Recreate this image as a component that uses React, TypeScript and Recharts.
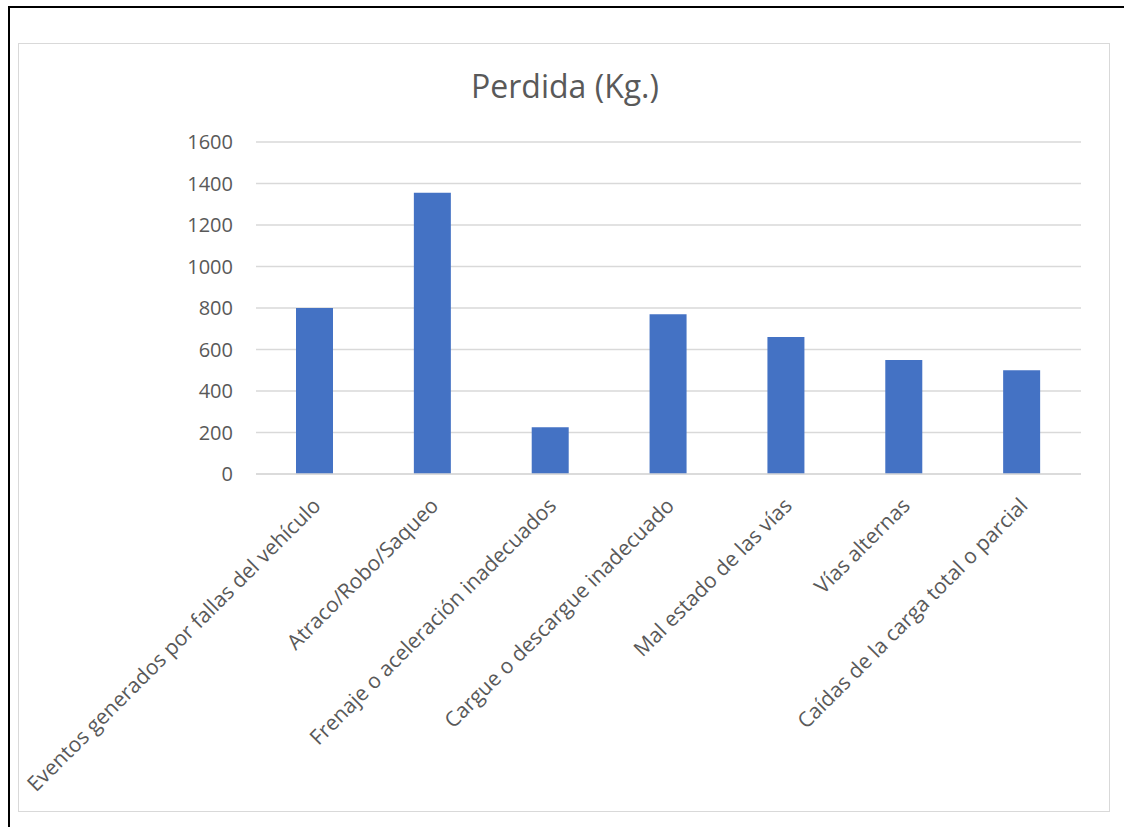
import { BarChart, Bar, XAxis, YAxis, CartesianGrid } from 'recharts'

const categories = [
  'Eventos generados por fallas del vehículo',
  'Atraco/Robo/Saqueo',
  'Frenaje o aceleración inadecuados',
  'Cargue o descargue inadecuado',
  'Mal estado de las vías',
  'Vías alternas',
  'Caídas de la carga total o parcial',
]
const perdida = [800, 1355, 225, 770, 660, 550, 500]
const yTicks = [0, 200, 400, 600, 800, 1000, 1200, 1400, 1600]

const data = categories.map((name, i) => ({ name, perdida: perdida[i] }))

const FONT = '"Open Sans", sans-serif'
const TEXT = '#595959'

function AngledTick({ x, y, payload }: any) {
  return (
    <g transform={`translate(${x + 7},${y + 25})`}>
      <text
        textAnchor="end"
        transform="rotate(-45)"
        fill={TEXT}
        fontSize={21}
        fontFamily={FONT}
      >
        {payload.value}
      </text>
    </g>
  )
}

export default function App() {
  return (
    <div
      style={{
        position: 'absolute',
        left: 0,
        top: 0,
        width: 1124,
        height: 827,
        background: '#fff',
        fontFamily: FONT,
      }}
    >
      {/* frame lines */}
      <div style={{ position: 'absolute', left: 8, top: 6, width: 1116, height: 2, background: '#000' }} />
      <div style={{ position: 'absolute', left: 8, top: 6, width: 2, height: 821, background: '#000' }} />
      <div
        style={{
          position: 'absolute',
          left: 18,
          top: 43,
          width: 1092,
          height: 769,
          border: '1px solid #d9d9d9',
          boxSizing: 'border-box',
        }}
      />
      <div
        style={{
          position: 'absolute',
          left: 0,
          width: 1130,
          top: 64,
          textAlign: 'center',
          fontSize: 32,
          color: TEXT,
          lineHeight: '44px',
        }}
      >
        Perdida (Kg.)
      </div>
      <div style={{ position: 'absolute', left: 0, top: 0 }}>
        <BarChart
          width={1124}
          height={827}
          data={data}
          margin={{ top: 142, right: 43, bottom: 0, left: 170 }}
          barCategoryGap={0}
        >
          <CartesianGrid vertical={false} stroke="#d9d9d9" strokeWidth={1.5} />
          <XAxis
            dataKey="name"
            interval={0}
            tick={<AngledTick />}
            tickLine={false}
            axisLine={{ stroke: '#d9d9d9', strokeWidth: 1.5 }}
            height={353}
          />
          <YAxis
            domain={[0, 1600]}
            ticks={yTicks}
            width={86}
            tickLine={false}
            axisLine={false}
            tickSize={0}
            tickMargin={23}
            tick={{ fill: TEXT, fontSize: 20, fontFamily: FONT }}
          />
          <Bar dataKey="perdida" fill="#4472c4" barSize={37} isAnimationActive={false} />
        </BarChart>
      </div>
    </div>
  )
}
